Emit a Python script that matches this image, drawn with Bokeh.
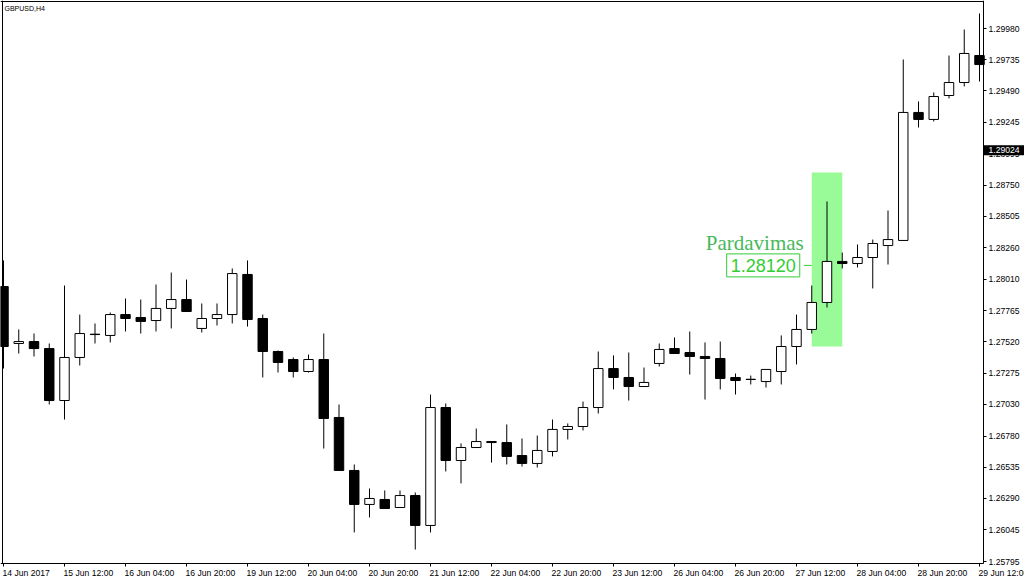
from bokeh.plotting import figure
from bokeh.models import (ColumnDataSource, Range1d, FixedTicker, PrintfTickFormatter, Label,
                          LinearAxis)
from bokeh.embed import file_html
from bokeh.resources import INLINE

# ---- data (GBPUSD, H4 candles) ----
opens = [1.27954, 1.27507, 1.27522, 1.27467, 1.27059, 1.27397, 1.27577, 1.27570, 1.27734, 1.27711,
         1.27687, 1.27782, 1.27852, 1.27625, 1.27703, 1.27734, 1.28049, 1.27703, 1.27444, 1.27381,
         1.27287, 1.27381, 1.26926, 1.26510, 1.26243, 1.26282, 1.26219, 1.26313, 1.26078, 1.27004,
         1.26588, 1.26690, 1.26737, 1.26729, 1.26627, 1.26565, 1.26659, 1.26832, 1.26855, 1.27004,
         1.27310, 1.27240, 1.27169, 1.27350, 1.27467, 1.27436, 1.27405, 1.27389, 1.27240, 1.27224,
         1.27208, 1.27287, 1.27483, 1.27617, 1.27829, 1.28151, 1.28135, 1.28182, 1.28276, 1.28316,
         1.29321, 1.29266, 1.29454, 1.29556, 1.29768]
highs = [1.28159, 1.27617, 1.27585, 1.27507, 1.27962, 1.27734, 1.27664, 1.27750, 1.27860, 1.27852,
         1.27970, 1.28064, 1.28009, 1.27821, 1.27821, 1.28096, 1.28159, 1.27734, 1.27452, 1.27397,
         1.27420, 1.27585, 1.27028, 1.26557, 1.26368, 1.26353, 1.26353, 1.26337, 1.27106, 1.27036,
         1.26722, 1.26839, 1.26740, 1.26871, 1.26761, 1.26784, 1.26910, 1.26879, 1.27051, 1.27444,
         1.27413, 1.27436, 1.27318, 1.27507, 1.27554, 1.27601, 1.27515, 1.27522, 1.27271, 1.27255,
         1.27305, 1.27570, 1.27734, 1.27962, 1.28622, 1.28221, 1.28284, 1.28323, 1.28551, 1.29737,
         1.29407, 1.29478, 1.29768, 1.29972, 1.30098]
lows = [1.27310, 1.27428, 1.27405, 1.27028, 1.26910, 1.27334, 1.27507, 1.27515, 1.27601, 1.27585,
        1.27601, 1.27625, 1.27755, 1.27593, 1.27648, 1.27664, 1.27640, 1.27240, 1.27279, 1.27240,
        1.27279, 1.26682, 1.26508, 1.26023, 1.26141, 1.26208, 1.26216, 1.25889, 1.26023, 1.26502,
        1.26408, 1.26688, 1.26572, 1.26557, 1.26541, 1.26533, 1.26620, 1.26753, 1.26824, 1.26957,
        1.27146, 1.27059, 1.27166, 1.27326, 1.27426, 1.27263, 1.27067, 1.27146, 1.27106, 1.27185,
        1.27161, 1.27185, 1.27342, 1.27585, 1.27789, 1.28096, 1.28104, 1.27939, 1.28127, 1.28313,
        1.29203, 1.29250, 1.29431, 1.29525, 1.29564]
closes = [1.27483, 1.27522, 1.27467, 1.27059, 1.27397, 1.27585, 1.27580, 1.27734, 1.27703, 1.27680,
          1.27782, 1.27852, 1.27758, 1.27703, 1.27734, 1.28056, 1.27695, 1.27444, 1.27358, 1.27287,
          1.27381, 1.26918, 1.26510, 1.26243, 1.26290, 1.26211, 1.26313, 1.26078, 1.27004, 1.26588,
          1.26690, 1.26737, 1.26729, 1.26620, 1.26565, 1.26667, 1.26832, 1.26855, 1.27004, 1.27310,
          1.27240, 1.27169, 1.27201, 1.27460, 1.27428, 1.27405, 1.27389, 1.27232, 1.27216, 1.27226,
          1.27303, 1.27483, 1.27617, 1.27829, 1.28151, 1.28135, 1.28182, 1.28292, 1.28323, 1.29321,
          1.29266, 1.29446, 1.29556, 1.29784, 1.29697]

time_tick_index = [0, 4, 8, 12, 16, 20, 24, 28, 32, 36, 40, 44, 48, 52, 56, 60, 64]
time_tick_labels = ["14 Jun 2017", "15 Jun 12:00", "16 Jun 04:00", "16 Jun 20:00", "19 Jun 12:00",
                    "20 Jun 04:00", "20 Jun 20:00", "21 Jun 12:00", "22 Jun 04:00", "22 Jun 20:00",
                    "23 Jun 12:00", "26 Jun 04:00", "26 Jun 20:00", "27 Jun 12:00", "28 Jun 04:00",
                    "28 Jun 20:00", "29 Jun 12:00"]
price_ticks = [1.25795, 1.26045, 1.26290, 1.26535, 1.26780, 1.27030, 1.27275, 1.27520, 1.27765,
               1.28010, 1.28260, 1.28505, 1.28750, 1.28995, 1.29245, 1.29490, 1.29735, 1.29980]

symbol_title = "GBPUSD,H4"
current_price = 1.29024
signal_label = "Pardavimas"
signal_price = 1.28120
zone_first_bar = 53
zone_last_bar = 55
zone_top = 1.28850
zone_bottom = 1.27483

# ---- view / layout (pixel geometry of the terminal window) ----
W, H = 1024, 583
BAR_PX = 15.25          # pixels per bar
FIRST_BAR_PX = 3        # screen x of bar 0
PRICE_PER_PX = 0.00007852
TOP_PRICE = 1.30200     # price at screen y = 0
X_START = -FIRST_BAR_PX / BAR_PX
X_END = (W - FIRST_BAR_PX) / BAR_PX
Y_END = TOP_PRICE
Y_START = TOP_PRICE - H * PRICE_PER_PX


def sx(px):
    return (px - FIRST_BAR_PX) / BAR_PX


def sy(py):
    return TOP_PRICE - py * PRICE_PER_PX


CHART_LEFT, CHART_RIGHT = sx(2), sx(983)
CHART_TOP, CHART_BOTTOM = sy(1), sy(563)
AXIS_FONT = "Liberation Sans"
AXIS_SIZE = "8.6px"

n = len(opens)
idx = list(range(n))
src = ColumnDataSource(dict(
    x=idx, high=highs, low=lows,
    top=[max(o, c) for o, c in zip(opens, closes)],
    bottom=[min(o, c) for o, c in zip(opens, closes)],
    fill=["white" if c >= o else "black" for o, c in zip(opens, closes)],
))

p = figure(width=W, height=H, output_backend="svg", toolbar_location=None,
           x_range=Range1d(X_START, X_END), y_range=Range1d(Y_START, Y_END),
           x_axis_location=None, y_axis_location=None, min_border=0)
p.background_fill_color = "white"
p.border_fill_color = "white"
p.outline_line_color = None
p.grid.visible = False

# highlighted zone behind candles
p.quad(left=[zone_first_bar], right=[zone_last_bar], top=[zone_top], bottom=[zone_bottom],
       fill_color="#98FB98", line_color=None)

# candles
p.segment(x0="x", y0="low", x1="x", y1="high", source=src, line_color="black", line_width=1)
p.vbar(x="x", width=0.62, top="top", bottom="bottom", source=src,
       fill_color="fill", line_color="black", line_width=1)

# connector from label box to zone
p.segment(x0=[zone_first_bar - 8 / BAR_PX], y0=[signal_price], x1=[zone_first_bar], y1=[signal_price],
          line_color="#32CD32", line_width=1)

p.add_layout(Label(x=zone_first_bar, y=signal_price, x_offset=-12, text=f"{signal_price:.5f}",
                   text_align="right", text_baseline="middle", text_font="Liberation Sans",
                   text_font_size="18px", text_color="#32CD32", border_line_color="#32CD32",
                   background_fill_color="white", padding=(4, 5)))
p.add_layout(Label(x=zone_first_bar, y=signal_price, x_offset=-8, y_offset=22, text=signal_label,
                   text_align="right", text_baseline="alphabetic", text_font="Liberation Serif",
                   text_font_size="21px", text_color="#47B85A"))

# price axis (right side of the chart area)
ya = LinearAxis(fixed_location=CHART_RIGHT, bounds=(CHART_BOTTOM, Y_END),
                ticker=FixedTicker(ticks=price_ticks), formatter=PrintfTickFormatter(format="%.5f"))
ya.minor_tick_line_color = None
ya.major_tick_in = 0
ya.major_tick_out = 3
ya.major_label_standoff = 2
ya.major_label_text_font = AXIS_FONT
ya.major_label_text_font_size = AXIS_SIZE
ya.major_label_text_color = "black"
ya.axis_line_color = "black"
p.add_layout(ya, "right")

# time axis (tick marks; labels are placed left-aligned below)
xa = LinearAxis(fixed_location=CHART_BOTTOM, bounds=(X_START, CHART_RIGHT),
                ticker=FixedTicker(ticks=time_tick_index))
xa.minor_tick_line_color = None
xa.major_tick_in = 0
xa.major_tick_out = 3
xa.major_label_text_font_size = "1px"
xa.major_label_text_alpha = 0
xa.axis_line_color = "black"
p.add_layout(xa, "below")

# chart border, left and top
for side, loc, bnds in (("left", CHART_LEFT, (CHART_BOTTOM, Y_END)),
                        ("above", CHART_TOP, (X_START, CHART_RIGHT))):
    b = LinearAxis(fixed_location=loc, bounds=bnds, ticker=FixedTicker(ticks=[]))
    b.major_tick_line_color = None
    b.minor_tick_line_color = None
    b.major_label_text_font_size = "1px"
    b.major_label_text_alpha = 0
    b.axis_line_color = "black"
    p.add_layout(b, side)

# time labels (left-aligned at their tick like the terminal)
for ti, lab in zip(time_tick_index, time_tick_labels):
    p.add_layout(Label(x=ti, y=CHART_BOTTOM, y_offset=-9, x_offset=-1, text=lab,
                       text_align="left", text_baseline="middle", text_font=AXIS_FONT,
                       text_font_size=AXIS_SIZE, text_color="black"))

# current price tag on the price axis
p.quad(left=[CHART_RIGHT], right=[X_END], top=[current_price + 5 * PRICE_PER_PX],
       bottom=[current_price - 5 * PRICE_PER_PX], fill_color="black", line_color=None,
       level="annotation")
p.add_layout(Label(x=CHART_RIGHT, y=current_price, x_offset=5, text=f"{current_price:.5f}",
                   text_align="left", text_baseline="middle", text_font=AXIS_FONT,
                   text_font_size=AXIS_SIZE, text_color="white", level="overlay"))

# symbol title
p.add_layout(Label(x=X_START, y=Y_END, x_offset=4, y_offset=-4, text=symbol_title,
                   text_align="left", text_baseline="top", text_font=AXIS_FONT,
                   text_font_size="7px", text_color="black"))

open("out.html", "w").write(file_html(p, INLINE))
